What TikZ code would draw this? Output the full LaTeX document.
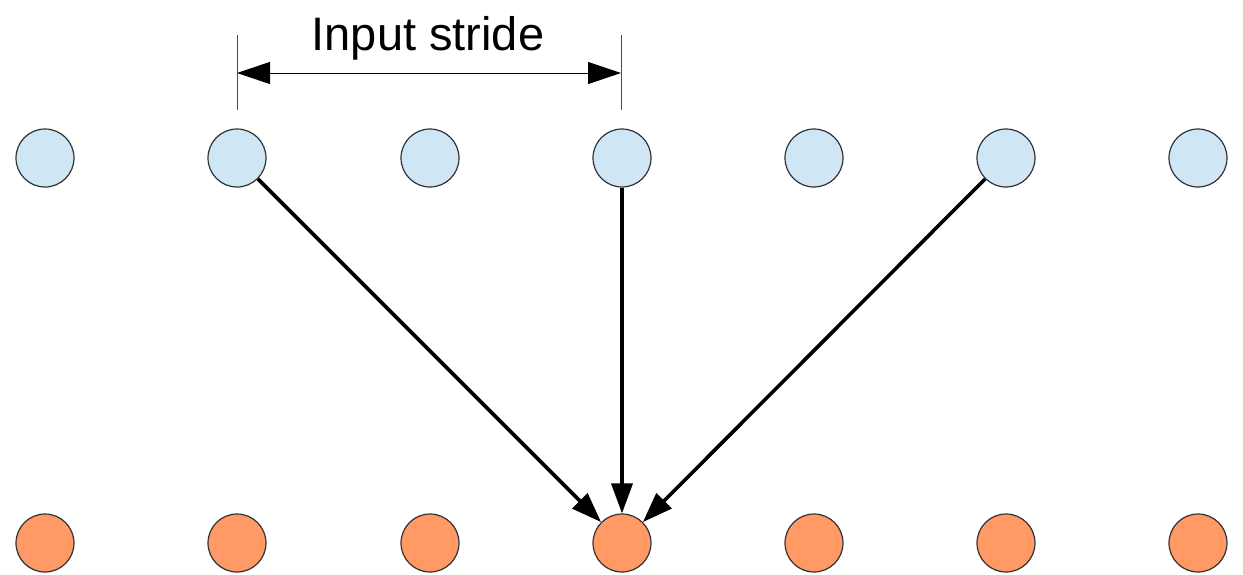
\documentclass[tikz,border=0pt]{standalone}
\usepackage{fontspec}
\setmainfont{Liberation Sans}
\usetikzlibrary{arrows.meta}
\definecolor{inblue}{RGB}{207,231,245}
\definecolor{outorange}{RGB}{255,153,102}
\definecolor{rimgray}{RGB}{50,50,50}
\begin{document}
\begin{tikzpicture}[x=1pt,y=-1pt,
  cell/.style={circle,draw=rimgray,line width=1.2pt,minimum size=58pt,inner sep=0pt},
  incell/.style={cell,fill=inblue},
  outcell/.style={cell,fill=outorange},
  conn/.style={line width=3.6pt,-{Triangle[length=30pt,width=21pt]}},
  dimline/.style={line width=1pt,{Triangle[length=33pt,width=22pt]}-{Triangle[length=33pt,width=22pt]}},
  tick/.style={line width=0.9pt,draw=black!70}]
\useasboundingbox (0,0) rectangle (1243,574);
\foreach \i/\x in {0/45,1/237,2/430,3/622,4/814,5/1006,6/1198}{
  \node[incell] (t\i) at (\x,158) {};
  \node[outcell] (b\i) at (\x,543) {};
}
\coordinate (ta) at (237,35);
\coordinate (tb) at (237,110);
\coordinate (tc) at (621,35);
\coordinate (td) at (621,110);
\draw[tick] (ta) -- (tb);
\draw[tick] (tc) -- (td);
\coordinate (da) at (237,73);
\coordinate (db) at (621,73);
\draw[dimline] (da) -- (db);
\node[font=\fontsize{47}{56}\selectfont,anchor=base] (lbl) at (428,50) {Input stride};
\draw[conn] (t1) -- (b3);
\draw[conn] (t3) -- (b3);
\draw[conn] (t5) -- (b3);
\end{tikzpicture}
\end{document}
